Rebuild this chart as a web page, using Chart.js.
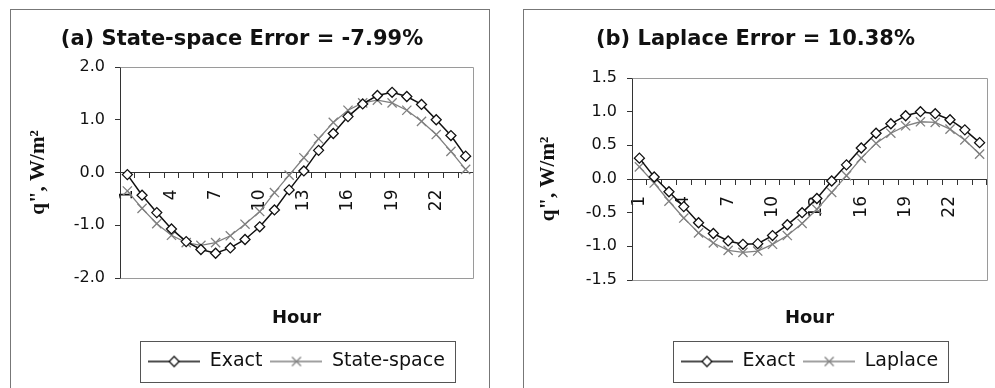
<!DOCTYPE html>
<html lang="en">
<head>
<meta charset="UTF-8">
<title>Heat flux q'' - Exact vs State-space and Laplace</title>
<script src="https://cdn.jsdelivr.net/npm/chart.js@4.4.0/dist/chart.umd.min.js"></script>
<style>
  body { margin: 0; background: #fff; width: 995px; height: 388px; overflow: hidden; position: relative; }
  .panel { position: absolute; top: 9px; height: 400px; border: 1px solid #777; background: #fff; }
  #panelA { left: 10px; width: 478px; }
  #panelB { left: 523px; width: 487px; }
  canvas { display: block; }
</style>
</head>
<body>
<div class="panel" id="panelA"><canvas id="chartA" width="478" height="378"></canvas></div>
<div class="panel" id="panelB"><canvas id="chartB" width="487" height="378"></canvas></div>

<script>
// hourly categories
const hours = ['1', '2', '3', '4', '5', '6', '7', '8', '9', '10', '11', '12',
               '13', '14', '15', '16', '17', '18', '19', '20', '21', '22', '23', '24'];

// (a) exact solution vs state-space model, W/m2
const exactA = [-0.04, -0.43, -0.76, -1.07, -1.31, -1.46, -1.53, -1.43, -1.27, -1.03, -0.71, -0.33,
                0.03, 0.42, 0.74, 1.06, 1.30, 1.46, 1.52, 1.44, 1.29, 1.00, 0.70, 0.31];
const stateSpace = [-0.35, -0.68, -0.97, -1.19, -1.33, -1.38, -1.33, -1.20, -0.98, -0.74, -0.38, -0.05,
                    0.28, 0.64, 0.95, 1.18, 1.32, 1.37, 1.32, 1.18, 0.97, 0.72, 0.40, 0.06];

// (b) exact solution vs Laplace model, W/m2
const exactB = [0.31, 0.03, -0.19, -0.41, -0.65, -0.81, -0.92, -0.97, -0.96, -0.84, -0.68, -0.50,
                -0.29, -0.03, 0.21, 0.46, 0.68, 0.82, 0.94, 1.00, 0.97, 0.88, 0.73, 0.54];
const laplace = [0.18, -0.06, -0.33, -0.58, -0.80, -0.95, -1.06, -1.09, -1.07, -0.97, -0.84, -0.66,
                 -0.45, -0.20, 0.05, 0.31, 0.53, 0.68, 0.79, 0.85, 0.84, 0.74, 0.58, 0.37];

const yTicksA = { min: -2, max: 2, step: 1 };
const yTicksB = { min: -1.5, max: 1.5, step: 0.5 };

const INK = '#111';
const GREY = '#808080';

Chart.defaults.font.family = '"DejaVu Sans", sans-serif';
Chart.defaults.color = INK;

// small line + marker pictures used as legend symbols
function legendSymbol(color, marker) {
  const c = document.createElement('canvas');
  c.width = 52; c.height = 14;
  const g = c.getContext('2d');
  g.strokeStyle = color;
  g.lineWidth = 1.4;
  g.beginPath(); g.moveTo(0, 7); g.lineTo(52, 7); g.stroke();
  g.lineWidth = 1.3;
  g.beginPath();
  if (marker === 'diamond') {
    g.moveTo(26, 2); g.lineTo(31, 7); g.lineTo(26, 12); g.lineTo(21, 7); g.closePath();
    g.fillStyle = '#fff'; g.fill();
  } else {
    g.moveTo(21.5, 2.5); g.lineTo(30.5, 11.5);
    g.moveTo(30.5, 2.5); g.lineTo(21.5, 11.5);
  }
  g.stroke();
  return c;
}
const symbols = [legendSymbol(INK, 'diamond'), legendSymbol(GREY, 'cross')];

// grey frame on the top, right and bottom of the plot area
const plotFrame = {
  id: 'plotFrame',
  beforeDatasetsDraw(chart) {
    const { ctx, chartArea: a } = chart;
    const l = Math.round(a.left) + 0.5, r = Math.round(a.right) + 0.5;
    const t = Math.round(a.top) + 0.5, b = Math.round(a.bottom) + 0.5;
    ctx.save();
    ctx.strokeStyle = '#9a9a9a';
    ctx.lineWidth = 1;
    ctx.beginPath();
    ctx.moveTo(l, t); ctx.lineTo(r, t); ctx.lineTo(r, b); ctx.lineTo(l, b);
    ctx.stroke();
    ctx.restore();
  }
};

// box around the legend entries
const legendBox = {
  id: 'legendBox',
  afterDraw(chart) {
    const hb = chart.legend && chart.legend.legendHitBoxes;
    if (!hb || !hb.length) return;
    const ctx = chart.ctx;
    const l = Math.min(...hb.map(h => h.left)) - 8;
    const r = Math.max(...hb.map(h => h.left + h.width)) + 10;
    const cy = hb[0].top + hb[0].height / 2;
    ctx.save();
    ctx.strokeStyle = '#555';
    ctx.lineWidth = 1;
    ctx.strokeRect(Math.round(l) + 0.5, Math.round(cy - 20.5) + 0.5, Math.round(r - l), 41);
    ctx.restore();
  }
};

function makeChart(id, p) {
  return new Chart(document.getElementById(id), {
    type: 'line',
    data: {
      labels: hours,
      datasets: [
        {
          label: 'Exact', data: p.exact,
          borderColor: INK, borderWidth: 1.5, tension: 0,
          pointStyle: 'rectRot', pointRadius: 5, pointBorderWidth: 1.3,
          pointBorderColor: INK, pointBackgroundColor: '#fff'
        },
        {
          label: p.modelName, data: p.model,
          borderColor: GREY, borderWidth: 1.3, tension: 0,
          pointStyle: 'crossRot', pointRadius: 6.5, pointBorderWidth: 1.3,
          pointBorderColor: GREY, pointBackgroundColor: GREY
        }
      ]
    },
    options: {
      responsive: false,
      animation: false,
      events: [],
      layout: { padding: { left: 0, right: p.padRight, top: 0, bottom: 7 } },
      plugins: {
        title: {
          display: true, text: p.title, color: INK,
          font: { size: 21, weight: 'bold' },
          padding: { top: 17, bottom: p.titleGap }
        },
        legend: {
          position: 'bottom', fullSize: false,
          labels: {
            color: INK, font: { size: 19 }, padding: 8,
            usePointStyle: true, pointStyleWidth: 52,
            generateLabels(chart) {
              const items = Chart.defaults.plugins.legend.labels.generateLabels(chart);
              items.forEach((it, i) => { it.pointStyle = symbols[i]; it.rotation = 0; });
              return items;
            }
          }
        },
        tooltip: { enabled: false }
      },
      scales: {
        x: {
          type: 'category',
          position: { y: 0 },
          offset: true,
          grid: { offset: true, drawOnChartArea: false, drawTicks: true, tickLength: 5, color: '#333' },
          border: { color: '#333' },
          ticks: {
            autoSkip: false, minRotation: 90, maxRotation: 90, padding: 12,
            font: { size: 17 }, color: INK,
            callback(v, i) { return i % 3 === 0 ? this.getLabelForValue(v) : ''; }
          },
          // rotated labels sit inside the plot, so they need no side margins
          afterFit(scale) { scale.paddingLeft = 0; scale.paddingRight = 0; }
        },
        x2: {
          type: 'category', labels: hours, position: 'bottom',
          grid: { display: false, drawTicks: false },
          border: { display: false },
          ticks: { display: false },
          title: {
            display: true, text: 'Hour', color: INK,
            font: { size: 18, weight: 'bold' },
            padding: { top: p.hourPadTop, bottom: 15.2 }
          }
        },
        y: {
          min: p.yTicks.min, max: p.yTicks.max,
          grid: { drawOnChartArea: false, drawTicks: true, tickLength: 5, color: '#333' },
          border: { color: '#333' },
          ticks: {
            stepSize: p.yTicks.step, padding: 10, color: INK, font: { size: 16 },
            callback: v => v.toFixed(1)
          },
          title: {
            display: true, text: 'q", W/m²', color: INK,
            font: { family: '"Liberation Serif", serif', size: 21, weight: 'bold' },
            padding: { top: p.yTitlePad, bottom: 0 }
          },
          afterFit(scale) { scale.width = p.yWidth; }
        }
      }
    },
    plugins: [plotFrame, legendBox]
  });
}

makeChart('chartA', {
  title: '(a) State-space Error = -7.99%',
  exact: exactA, model: stateSpace, modelName: 'State-space',
  yTicks: yTicksA,
  padRight: 16, yWidth: 109, titleGap: 14.8, yTitlePad: 15, hourPadTop: 29.2
});

makeChart('chartB', {
  title: '(b) Laplace Error = 10.38%',
  exact: exactB, model: laplace, modelName: 'Laplace',
  yTicks: yTicksB,
  padRight: 24, yWidth: 108, titleGap: 25.8, yTitlePad: 12, hourPadTop: 27.2
});
</script>
</body>
</html>
